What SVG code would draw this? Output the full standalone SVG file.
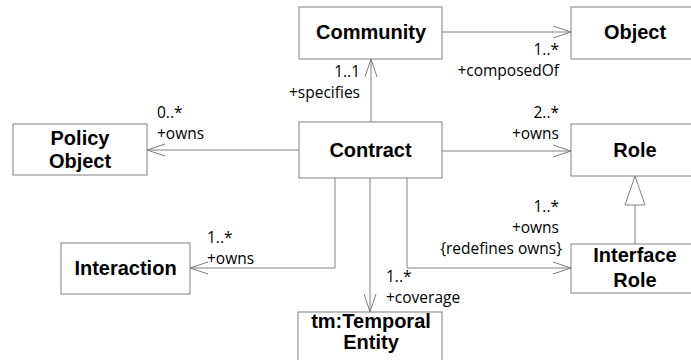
<svg xmlns="http://www.w3.org/2000/svg" width="691" height="360" viewBox="0 0 691 360">
  <style>
    .box { fill: #ffffff; stroke: #808080; stroke-width: 1; }
    .name { font-family: "Liberation Sans", Arial, sans-serif; font-weight: bold; font-size: 20px; fill: #000; text-anchor: middle; }
    .edge { fill: none; stroke: #808080; stroke-width: 1; }
    .lbl { font-family: "Open Sans", "Noto Sans", sans-serif; font-size: 15.5px; fill: #000; }
    .end { text-anchor: end; }
  </style>
  <defs>
    <marker id="open" viewBox="0 0 20 14" refX="19" refY="7" markerWidth="20" markerHeight="14" markerUnits="userSpaceOnUse" orient="auto">
      <path d="M1,1 L19,7 L1,13" fill="none" stroke="#808080" stroke-width="1"/>
    </marker>
  </defs>
  <rect width="691" height="360" fill="#ffffff"/>

  <!-- connectors -->
  <g id="connectors">
    <!-- Community -> Object -->
    <path class="edge" d="M442,32 H571" marker-end="url(#open)"/>
    <!-- Contract -> Community -->
    <path class="edge" d="M371,122 V59" marker-end="url(#open)"/>
    <!-- Contract -> Policy Object -->
    <path class="edge" d="M299,150 H147" marker-end="url(#open)"/>
    <!-- Contract -> Role -->
    <path class="edge" d="M442,151 H571" marker-end="url(#open)"/>
    <!-- Contract -> Interaction -->
    <path class="edge" d="M335,178 V268 H190" marker-end="url(#open)"/>
    <!-- Contract -> tm:TemporalEntity -->
    <path class="edge" d="M370,178 V312" marker-end="url(#open)"/>
    <!-- Contract -> Interface Role -->
    <path class="edge" d="M407,178 V268 H571" marker-end="url(#open)"/>
    <!-- Interface Role generalizes Role -->
    <path class="edge" d="M635,244 V205"/>
    <path d="M625,205 L635,176 L645,205 Z" fill="#ffffff" stroke="#808080" stroke-width="1"/>

    <!-- end labels -->
    <text class="lbl end" x="559" y="55">1..*</text>
    <text class="lbl end" x="559" y="76">+composedOf</text>
    <text class="lbl end" x="360" y="77">1..1</text>
    <text class="lbl end" x="360" y="98">+specifies</text>
    <text class="lbl" x="157" y="118">0..*</text>
    <text class="lbl" x="157" y="139">+owns</text>
    <text class="lbl end" x="559" y="118">2..*</text>
    <text class="lbl end" x="559" y="139">+owns</text>
    <text class="lbl end" x="559" y="212">1..*</text>
    <text class="lbl end" x="559" y="233">+owns</text>
    <text class="lbl end" x="562" y="254">{redefines owns}</text>
    <text class="lbl" x="207" y="243">1..*</text>
    <text class="lbl" x="207" y="264">+owns</text>
    <text class="lbl" x="386" y="282">1..*</text>
    <text class="lbl" x="386" y="303">+coverage</text>
  </g>

  <g id="community">
    <rect class="box" x="299" y="7" width="143" height="52"/>
    <text class="name" x="371" y="39">Community</text>
  </g>
  <g id="object">
    <rect class="box" x="571" y="7" width="128" height="52"/>
    <text class="name" x="635" y="39">Object</text>
  </g>
  <g id="policy-object">
    <rect class="box" x="13" y="124" width="134" height="51"/>
    <text class="name" x="80" y="145">Policy</text>
    <text class="name" x="80" y="168">Object</text>
  </g>
  <g id="contract">
    <rect class="box" x="299" y="122" width="143" height="56"/>
    <text class="name" x="370.5" y="157">Contract</text>
  </g>
  <g id="role">
    <rect class="box" x="571" y="124" width="128" height="52"/>
    <text class="name" x="635" y="157">Role</text>
  </g>
  <g id="interaction">
    <rect class="box" x="61" y="243" width="129" height="51"/>
    <text class="name" x="125.5" y="275">Interaction</text>
  </g>
  <g id="interface-role">
    <rect class="box" x="571" y="244" width="128" height="49"/>
    <text class="name" x="635" y="262">Interface</text>
    <text class="name" x="635" y="287">Role</text>
  </g>
  <g id="temporal-entity">
    <rect class="box" x="298" y="312" width="144" height="60"/>
    <text class="name" x="371" y="328">tm:Temporal</text>
    <text class="name" x="371" y="349">Entity</text>
  </g>
</svg>
